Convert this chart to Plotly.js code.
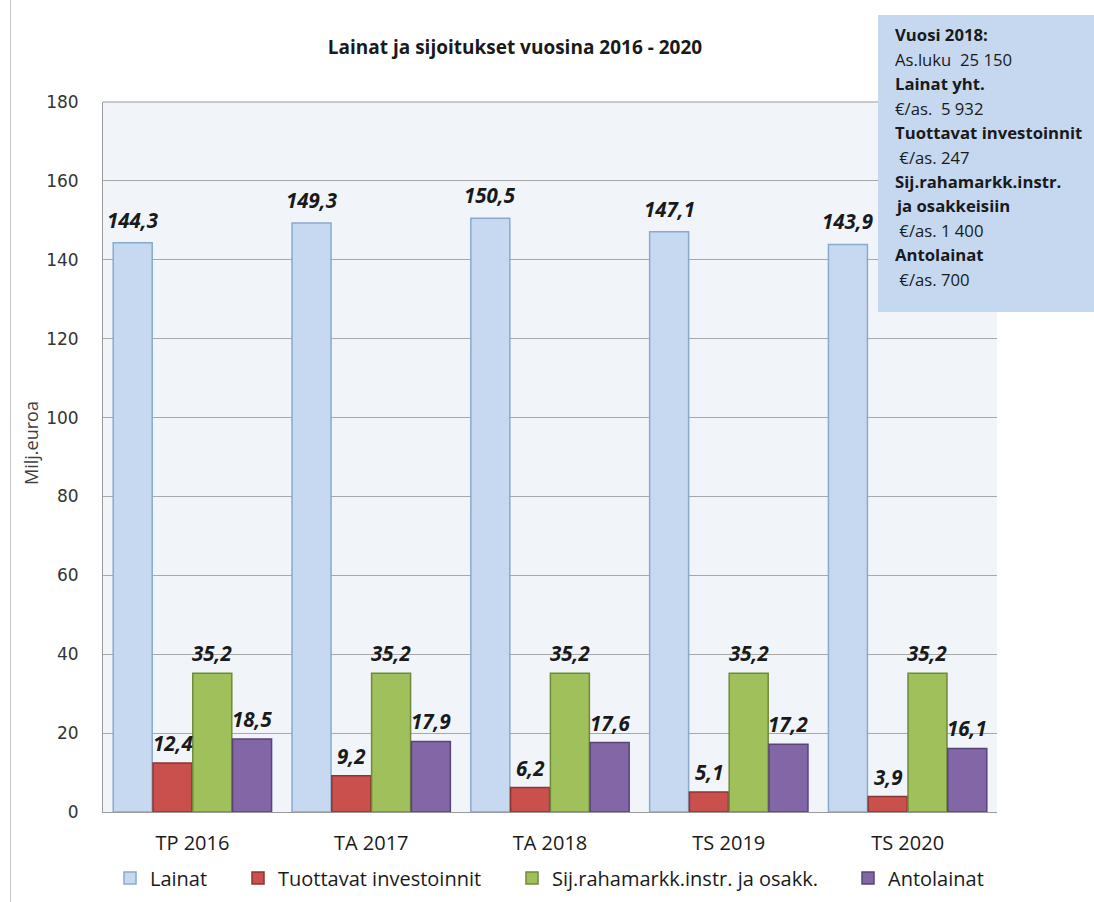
<!DOCTYPE html>
<html>
<head>
<meta charset="utf-8">
<script src="https://cdn.plot.ly/plotly-3.0.1.min.js"></script>
<style>
  html, body { margin: 0; padding: 0; background: #ffffff; }
  #wrap { position: relative; width: 1094px; height: 902px; }
  #chart { position: absolute; left: 0; top: 0; width: 1094px; height: 902px; }
  #frame { position: absolute; left: 10px; top: 0; width: 1px; height: 902px; background: #c8c8c8; }
</style>
</head>
<body>
<div id="wrap">
  <div id="chart"></div>
  <div id="frame"></div>
</div>
<script>
// ---- data ----
const categories = ["TP 2016", "TA 2017", "TA 2018", "TS 2019", "TS 2020"];
const seriesNames = ["Lainat", "Tuottavat investoinnit", "Sij.rahamarkk.instr. ja osakk.", "Antolainat"];
const lainat = [144.3, 149.3, 150.5, 147.1, 143.9];
const tuottavat = [12.4, 9.2, 6.2, 5.1, 3.9];
const sijoitukset = [35.2, 35.2, 35.2, 35.2, 35.2];
const antolainat = [18.5, 17.9, 17.6, 17.2, 16.1];
const yTicks = [0, 20, 40, 60, 80, 100, 120, 140, 160, 180];
const chartTitle = "Lainat ja sijoitukset vuosina 2016 - 2020";
const yTitle = "Milj.euroa";
const infoLines = [
  {t: "Vuosi 2018:", b: true},
  {t: "As.luku  25 150", b: false},
  {t: "Lainat yht.", b: true},
  {t: "€/as.  5 932", b: false},
  {t: "Tuottavat investoinnit", b: true},
  {t: " €/as. 247", b: false},
  {t: "Sij.rahamarkk.instr.", b: true},
  {t: "ja osakkeisiin", b: true},
  {t: " €/as. 1 400", b: false},
  {t: "Antolainat", b: true},
  {t: " €/as. 700", b: false}
];

// ---- styles ----
const seriesValues = [lainat, tuottavat, sijoitukset, antolainat];
const fills = ["#c6d9f1", "#c9504c", "#9fc05a", "#8266a6"];
const edges = ["#8aa9cf", "#8c3634", "#6f8a3a", "#594478"];
const labelShift = [23, 20, 20, 20];
const legendTextX = [150, 278, 552, 888];
const FONT = "'Open Sans', 'Noto Sans', sans-serif";

const W = 1094, H = 902;
const M = {l: 103, r: 97, t: 102, b: 90};
const plotW = W - M.l - M.r, plotH = H - M.t - M.b;
const bargap = 0.11, bargroupgap = 0.02;
const px2x = p => (p - M.l) / plotW;
const px2y = p => (H - M.b - p) / plotH;

const legendIds = ["legend", "legend2", "legend3", "legend4"];
const traces = seriesNames.map((name, s) => ({
  type: "bar",
  name: name,
  x: categories,
  y: seriesValues[s],
  legend: legendIds[s],
  marker: {color: fills[s], line: {color: edges[s], width: 1.5}},
  hoverinfo: "x+y"
}));

// data label annotations
const slot = plotW / categories.length;
const barW = slot * (1 - bargap) / seriesNames.length;
const annotations = [];
seriesValues.forEach((vals, s) => {
  const off = (s - (seriesNames.length - 1) / 2) * barW;
  vals.forEach((v, i) => {
    annotations.push({
      x: categories[i], y: v, xref: "x", yref: "y",
      xshift: off, yshift: labelShift[s], yanchor: "middle", xanchor: "center",
      text: "<b><i>" + v.toFixed(1).replace(".", ",") + "</i></b>",
      showarrow: false,
      font: {family: FONT, size: 20.5, color: "#1a1a1a"}
    });
  });
});

// info box
const boxLeft = 878, boxTop = 15, boxBottom = 312, textLeft = 893, firstLine = 35, lineStep = 24.4;
infoLines.forEach((ln, k) => {
  const t = ln.t.replace(/ /g, "\u00a0");
  annotations.push({
    xref: "paper", yref: "paper",
    x: px2x(textLeft), y: px2y(firstLine + k * lineStep),
    xanchor: "left", yanchor: "middle", showarrow: false,
    text: ln.b ? "<b>" + t + "</b>" : t,
    font: {family: FONT, size: 16.7, color: "#1a1a1a"}
  });
});

// y axis title
annotations.push({
  xref: "paper", yref: "paper", x: px2x(31), y: px2y(443),
  xanchor: "center", yanchor: "middle", showarrow: false, textangle: -90,
  text: yTitle, font: {family: FONT, size: 18, color: "#404040"}
});

const legends = {};
legendIds.forEach((id, s) => {
  legends[id] = {
    orientation: "h", xref: "container", yref: "container",
    x: (legendTextX[s] - 40) / W, xanchor: "left",
    y: 1 - 878 / H, yanchor: "middle",
    font: {family: FONT, size: 20, color: "#1a1a1a"},
    itemwidth: 30, bgcolor: "rgba(0,0,0,0)", borderwidth: 0
  };
});

const layout = Object.assign({
  width: W, height: H,
  margin: Object.assign({autoexpand: false}, M),
  paper_bgcolor: "#ffffff",
  plot_bgcolor: "#f1f5fa",
  barmode: "group",
  bargap: bargap,
  bargroupgap: bargroupgap,
  title: {
    text: "<b>" + chartTitle + "</b>",
    font: {family: FONT, size: 19, color: "#1a1a1a"},
    x: 515 / W, xanchor: "center", y: 1 - 47 / H, yanchor: "middle"
  },
  xaxis: {
    type: "category",
    showline: true, linecolor: "#9a9a9a", linewidth: 1,
    ticks: "", tickfont: {family: FONT, size: 20, color: "#1a1a1a"},
    ticklabelstandoff: 13, automargin: false
  },
  yaxis: {
    range: [0, 180], tickvals: yTicks, ticktext: yTicks.map(String),
    showline: true, linecolor: "#9a9a9a", linewidth: 1, mirror: false,
    showgrid: true, gridcolor: "#a8a8a8", gridwidth: 1,
    zeroline: false, ticks: "",
    tickfont: {family: "'DejaVu Sans', sans-serif", size: 17, color: "#333333"},
    ticklabelstandoff: 20, automargin: false
  },
  showlegend: true,
  shapes: [
    {type: "line", xref: "paper", yref: "paper", x0: 0, x1: 1, y0: 1, y1: 1,
     line: {color: "#9a9a9a", width: 1}, layer: "above"},
    {type: "rect", xref: "paper", yref: "paper",
     x0: px2x(boxLeft), x1: px2x(W + 5), y0: px2y(boxBottom), y1: px2y(boxTop),
     fillcolor: "#c5d8f0", line: {width: 0}, layer: "above"}
  ],
  annotations: annotations
}, legends);

Plotly.newPlot("chart", traces, layout, {displayModeBar: false, staticPlot: true});
</script>
</body>
</html>
